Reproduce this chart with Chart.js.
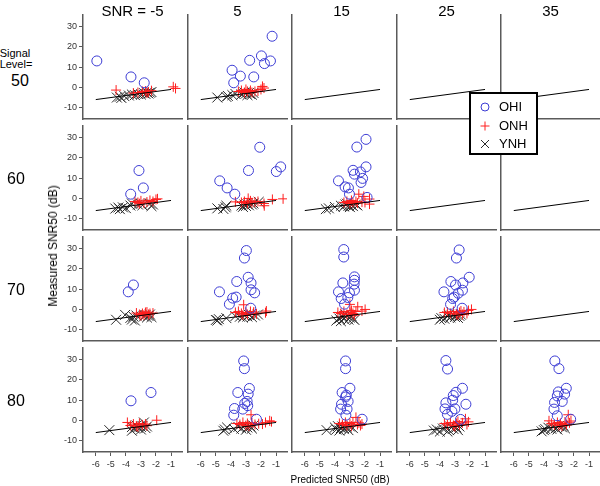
<!DOCTYPE html>
<html>
<head>
<meta charset="utf-8">
<script src="https://cdn.jsdelivr.net/npm/chart.js@4.4.0/dist/chart.umd.min.js"></script>
<style>
    body { margin: 0; background: #fff; }
    #wrap { position: relative; width: 600px; height: 486px; overflow: hidden; font-family: Arial, "Liberation Sans", sans-serif; }
    #wrap canvas { position: absolute; }
    .lbl { position: absolute; color: #000; white-space: nowrap; transform: translate(-50%, -50%); line-height: 1; }
    #legend { position: absolute; left: 469px; top: 92px; width: 69px; height: 63px; box-sizing: border-box; border: 2px solid #000; background: #fff; z-index: 5; }
    #legend .item { position: absolute; left: 0; height: 16px; font-size: 13px; line-height: 16px; }
    #legend svg { position: absolute; left: 7px; top: 3px; }
    #legend span { position: absolute; left: 28px; top: 0; }
</style>
</head>
<body>
<div id="wrap"></div>
<script>
// Panel grid: columns are SNR, rows are signal level
const snrLevels = [-5, 5, 15, 25, 35];
const signalLevels = [50, 60, 70, 80];
const xTicks = [-6, -5, -4, -3, -2, -1];
const yTicks = [-10, 0, 10, 20, 30];
const refLine = [[-6, -6], [-1, -1]];

// Signal level 50, one list per SNR column
const ohi50 = [
    [[-5.93, 13.1], [-3.66, 5.2], [-2.78, 2.3]],
    [[-1.26, 25.3], [-1.97, 15.6], [-1.37, 13.1], [-1.77, 11.8], [-2.75, 13.4], [-3.92, 8.5], [-3.37, 5.6], [-2.48, 5.2], [-3.81, 2.3]],
    [], [], []
];
const onh50 = [
    [[-4.65, -1.3], [-0.85, 0.3], [-0.7, -0.5], [-3.5, -2.8], [-3.2, -2.5], [-2.9, -2], [-2.7, -1.8], [-2.6, -2.8], [-2.5, -2.2], [-2.3, -1.6]],
    [[-3.5, -2], [-3.3, -1.5], [-3.1, -2.5], [-3.0, -1], [-2.9, -2], [-2.7, -1.5], [-2.6, -2.5], [-2.4, -2], [-2.2, -1.8], [-2.0, -1], [-1.9, 0.5], [-1.8, -0.3]],
    [], [], []
];
const ynh50 = [
    [[-4.6, -5], [-4.4, -4.6], [-4.3, -5.2], [-4.1, -4.3], [-3.8, -4], [-3.6, -3.5], [-3.4, -3.8], [-3.2, -3.2], [-3.0, -3.5], [-2.8, -2.8], [-2.7, -3.2], [-2.6, -2.5], [-2.5, -3], [-2.4, -2.6], [-2.3, -2.3]],
    [[-4.9, -5], [-4.3, -4.7], [-4.2, -4.2], [-3.9, -3.8], [-3.7, -3.2], [-3.3, -3.5], [-3.1, -2.5], [-3.0, -3], [-2.9, -3.8], [-2.8, -2.8], [-2.7, -3.3], [-2.6, -3.6], [-2.5, -2.7]],
    [], [], []
];

// Signal level 60
const ohi60 = [
    [[-3.13, 13.8], [-2.84, 5.2], [-3.68, 2.1]],
    [[-2.08, 25.3], [-0.69, 15.6], [-0.98, 13.3], [-2.83, 13.8], [-4.74, 8.7], [-4.25, 5.2], [-3.74, 2.1]],
    [[-1.93, 29.2], [-2.54, 25.4], [-1.93, 15.6], [-2.79, 13.9], [-2.3, 13.1], [-2.7, 12], [-2.16, 9.9], [-2.26, 7.9], [-3.76, 8.7], [-3.32, 5.7], [-3.1, 5.2], [-3.03, 2.1], [-1.86, 0.5]],
    [], []
];
const onh60 = [
    [[-3.4, -1.5], [-3.2, -2], [-3.0, -1.2], [-2.8, -2.3], [-2.6, -1.8], [-2.4, -1], [-2.2, -1.5], [-2.0, -0.5], [-1.9, -0.2], [-3.1, -2.6]],
    [[-3.7, -1.7], [-3.3, -2], [-3.1, -1.5], [-2.9, -2.5], [-2.85, 0], [-2.7, -1.2], [-2.6, -2.2], [-2.4, -1.8], [-2.2, -1.5], [-1.8, -2.5], [-1.78, -3.6], [-1.24, -0.5], [-0.53, -0.2]],
    [[-3.4, -2], [-3.2, -1.5], [-3.0, -2.5], [-2.9, -1], [-2.8, -2], [-2.6, -1.5], [-2.5, -2.3], [-2.41, 2.1], [-2.08, 1], [-2.2, -1.8], [-1.7, -0.3], [-1.7, -2.8], [-2.0, -2]],
    [], []
];
const ynh60 = [
    [[-4.7, -5], [-4.5, -4.5], [-4.4, -5.3], [-4.2, -4.4], [-4.0, -4.8], [-3.7, -3.5], [-3.6, -2.5], [-3.2, -3], [-3.0, -2.6], [-2.9, -3.4], [-2.4, -2.5], [-2.3, -3.8], [-2.2, -3]],
    [[-4.9, -4.9], [-4.5, -5.2], [-4.35, -4.4], [-4.3, -3.6], [-3.3, -3.5], [-3.2, -4.2], [-3.1, -3], [-3.0, -3.7], [-2.9, -2.8], [-2.8, -3.4], [-2.6, -3], [-2.15, -1.7], [-2.5, -2.5]],
    [[-4.6, -5.3], [-4.4, -4.9], [-4.0, -4.2], [-3.6, -3.6], [-3.4, -4], [-3.3, -3], [-3.1, -3.7], [-3.0, -4.3], [-2.9, -3.2], [-2.8, -3.8], [-2.6, -3], [-2.5, -3.5], [-3.2, -2.6]],
    [], []
];

// Signal level 70
const ohi70 = [
    [[-3.5, 12.1], [-3.84, 8.7]],
    [[-2.97, 29.1], [-3.1, 25.4], [-2.85, 15.9], [-2.66, 13.1], [-3.61, 13.8], [-2.66, 9.7], [-2.42, 8.2], [-4.76, 8.7], [-3.65, 6.1], [-3.88, 5.6], [-4.1, 2.6], [-2.68, 0.6]],
    [[-3.41, 29.6], [-3.41, 25.9], [-2.7, 16.1], [-2.7, 14.4], [-2.72, 12.5], [-3.47, 13.1], [-2.7, 9.5], [-3.76, 8.7], [-3.03, 8.2], [-3.14, 5.9], [-3.58, 5.4], [-3.36, 2.6]],
    [[-2.72, 29.4], [-2.9, 25.4], [-2.05, 15.9], [-2.47, 13.1], [-3.27, 13.8], [-2.96, 12.1], [-2.5, 9.5], [-3.73, 8.7], [-2.78, 8], [-3.05, 6.1], [-3.15, 5.4], [-3.29, 2.5], [-2.52, 0.6]],
    []
];
const onh70 = [
    [[-3.3, -1.8], [-3.1, -2.5], [-2.9, -2], [-2.7, -1.5], [-2.6, -1.3], [-2.5, -2.5], [-2.4, -2], [-2.2, -1.8], [-3.0, -3], [-2.8, -2.8]],
    [[-3.7, -1.5], [-3.5, -1], [-3.3, -2], [-3.15, 2.3], [-3.0, -1.5], [-2.9, -2.5], [-2.7, -1], [-2.5, -2], [-2.48, -1.3], [-2.3, -2.2], [-1.64, -0.8], [-1.7, -1.6], [-3.2, -2.8]],
    [[-3.8, -1.5], [-3.6, -2], [-3.4, -1], [-3.2, -2.5], [-3.0, -1.5], [-2.9, -0.5], [-2.8, -2], [-2.6, -1], [-2.48, 1.3], [-2.2, -0.8], [-1.99, 0], [-3.0, 2.5], [-2.7, -2.8]],
    [[-3.7, -1.5], [-3.5, -1.3], [-3.3, -2], [-3.1, -1], [-2.9, -2.3], [-2.7, -1.5], [-2.6, -0.8], [-2.5, -2.5], [-2.4, -1.2], [-2.2, -2], [-2.1, -0.5], [-1.9, 0], [-2.8, -2.8]],
    []
];
const ynh70 = [
    [[-4.65, -5.1], [-4.05, -2.7], [-3.7, -4.2], [-3.6, -5], [-3.5, -3.5], [-3.3, -3], [-3.4, -5.5], [-2.8, -3.5], [-2.7, -2.8], [-2.6, -4], [-2.5, -3.2], [-2.4, -2.5], [-2.3, -3.8]],
    [[-5.0, -5.2], [-4.9, -5.5], [-4.8, -4.8], [-4.3, -4.3], [-3.7, -3.3], [-3.4, -3.6], [-3.2, -4], [-3.1, -3], [-2.9, -3.5], [-2.8, -2.7], [-2.6, -3.8], [-2.4, -3], [-2.2, -2.5]],
    [[-3.9, -5.5], [-3.7, -4.5], [-3.6, -5.8], [-3.5, -3.5], [-3.4, -4.8], [-3.2, -3], [-3.1, -5], [-3.0, -4], [-2.9, -3.2], [-2.8, -4.5], [-2.7, -5.2], [-3.3, -2.5]],
    [[-4.0, -5.1], [-3.9, -4.3], [-3.7, -4.6], [-3.5, -3.5], [-3.3, -4], [-3.2, -3], [-3.0, -3.7], [-2.9, -2.7], [-2.8, -4.2], [-2.7, -3.2], [-2.6, -2.6], [-3.4, -2.6]],
    []
];

// Signal level 80
const ohi80 = [
    [[-3.66, 9.7], [-2.33, 13.8]],
    [[-3.15, 29.4], [-3.1, 25.6], [-2.77, 15.8], [-3.54, 13.8], [-2.85, 13], [-2.92, 9.4], [-3.08, 8.4], [-2.88, 7.3], [-3.21, 5.6], [-3.76, 5.9], [-3.81, 2.6], [-2.3, 0.6]],
    [[-3.29, 29.4], [-3.29, 25.6], [-3.0, 15.9], [-3.52, 13.8], [-3.24, 12.5], [-3.29, 11.6], [-3.12, 9.4], [-3.56, 8], [-3.62, 5.6], [-3.19, 5.6], [-3.27, 2.6], [-2.19, 0.6]],
    [[-3.6, 29.6], [-3.49, 25.4], [-2.5, 15.9], [-2.93, 13.9], [-3.11, 12.3], [-3.15, 10], [-2.27, 8], [-3.6, 8.7], [-3.0, 5.7], [-3.66, 5.7], [-3.5, 3], [-2.63, 0.5], [-3.2, 4.5]],
    [[-3.27, 29.4], [-3.0, 25.6], [-2.51, 15.9], [-3.04, 14.1], [-2.62, 13], [-3.11, 12.1], [-2.78, 9.4], [-3.29, 8.9], [-3.33, 5.6], [-3.11, 2.3], [-2.22, 0.6]]
];
const onh80 = [
    [[-3.9, -1], [-3.7, -2.5], [-3.5, -1.8], [-3.3, -2.8], [-3.1, -1.5], [-2.9, -2.2], [-2.7, -1.8], [-2.6, -2.6], [-1.95, 0.1], [-3.2, -3.2]],
    [[-3.6, -1.5], [-3.4, -2], [-3.2, -1], [-3.0, -2.5], [-2.9, -1.5], [-2.8, -2.8], [-2.66, 2.8], [-2.6, -1.2], [-2.4, -2], [-2.15, -1.6], [-1.9, -1.8], [-1.7, -1], [-1.42, -0.2], [-1.3, -0.6]],
    [[-3.7, -1.5], [-3.5, -2], [-3.3, -1], [-3.2, -2.5], [-3.0, -1.5], [-2.9, -2.8], [-2.8, -1], [-2.6, 1.5], [-2.5, -2], [-2.4, -1.2], [-2.3, -2.5], [-2.2, -1.8]],
    [[-3.7, -1.5], [-3.5, -2.2], [-3.3, -1], [-3.1, -2.5], [-2.9, -1.5], [-2.8, -0.5], [-2.7, -2.3], [-2.5, -1.2], [-2.3, 0.8], [-2.2, -2], [-2.1, -0.7], [-3.0, -3]],
    [[-3.66, -0.2], [-3.5, -1.5], [-3.3, -2.2], [-3.1, -1], [-3.0, -2.5], [-2.9, -1.5], [-2.8, -2.8], [-2.6, -0.8], [-2.5, -2], [-2.38, 2.8], [-2.3, -1.2], [-2.2, -0.3]]
];
const ynh80 = [
    [[-5.1, -4.8], [-3.6, -5.1], [-3.6, -3.3], [-3.4, -4], [-3.2, -3.5], [-3.0, -4.5], [-2.9, -2.7], [-2.8, -1], [-2.7, -3.8], [-2.6, -3], [-3.3, -2.5], [-3.0, -3.2]],
    [[-4.5, -5.1], [-4.4, -4.5], [-4.25, -3.5], [-3.8, -4.2], [-3.5, -3.2], [-3.3, -4], [-3.1, -2.8], [-3.0, -4.6], [-2.9, -3.5], [-2.7, -3], [-2.6, -4], [-2.5, -2.5]],
    [[-4.55, -4.8], [-4.0, -3.5], [-3.9, -4.5], [-3.8, -2.8], [-3.7, -5], [-3.6, -3.8], [-3.5, -3], [-3.4, -4.3], [-3.2, -3.5], [-3.1, -4.8], [-3.0, -3], [-2.8, -3.8]],
    [[-4.4, -5], [-4.2, -4.5], [-4.0, -5.5], [-3.8, -4], [-3.6, -3.5], [-3.4, -4.8], [-3.3, -3], [-3.1, -4.2], [-2.9, -3.5], [-2.8, -4.8], [-2.7, -3], [-3.5, -5.5]],
    [[-4.15, -5.4], [-4.0, -4.8], [-3.9, -4.3], [-3.7, -3.6], [-3.5, -4.2], [-3.4, -3], [-3.2, -3.8], [-3.1, -4.5], [-3.0, -2.8], [-2.8, -3.4], [-2.7, -2.6], [-2.6, -3.9]]
];

const ohiRows = [ohi50, ohi60, ohi70, ohi80];
const onhRows = [onh50, onh60, onh70, onh80];
const ynhRows = [ynh50, ynh60, ynh70, ynh80];

// Layout of the grid (pixels)
const panelLeft = [83, 188, 292, 397, 501];
const panelTop = [15, 126, 237, 348];
const panelW = 99;
const panelH = 104;
const FONT = 'Arial, "Liberation Sans", sans-serif';
const AXIS = '#5a5a5a';

const wrap = document.getElementById('wrap');
const toXY = pts => pts.map(p => ({ x: p[0], y: p[1] }));

function addLabel(text, x, y, size, extra) {
    const d = document.createElement('div');
    d.className = 'lbl';
    d.textContent = text;
    d.style.left = x + 'px';
    d.style.top = y + 'px';
    d.style.fontSize = size + 'px';
    if (extra) d.style.transform = extra;
    wrap.appendChild(d);
}

function makePanel(r, c) {
    const showY = c === 0;
    const showX = r === 3;
    const padL = showY ? 40 : 8, padR = 8, padT = 8, padB = showX ? 30 : 8;
    const yW = showY ? 32 : 0;
    const xH = showX ? 24 : 0;

    const cv = document.createElement('canvas');
    cv.width = panelW + padL + padR;
    cv.height = panelH + padT + padB;
    cv.style.left = (panelLeft[c] - padL) + 'px';
    cv.style.top = (panelTop[r] - padT) + 'px';
    wrap.appendChild(cv);

    new Chart(cv, {
        type: 'scatter',
        data: {
            datasets: [
                {
                    label: 'ref',
                    data: toXY(refLine),
                    showLine: true,
                    borderColor: '#000',
                    borderWidth: 1,
                    pointRadius: 0
                },
                {
                    label: 'OHI',
                    data: toXY(ohiRows[r][c]),
                    pointStyle: 'circle',
                    pointRadius: 5,
                    borderColor: '#3c3cd4',
                    backgroundColor: 'rgba(0,0,0,0)',
                    borderWidth: 1
                },
                {
                    label: 'ONH',
                    data: toXY(onhRows[r][c]),
                    pointStyle: 'cross',
                    pointRadius: 5,
                    borderColor: '#ff1e1e',
                    borderWidth: 1
                },
                {
                    label: 'YNH',
                    data: toXY(ynhRows[r][c]),
                    pointStyle: 'crossRot',
                    pointRadius: 7,
                    borderColor: '#2a2a2a',
                    borderWidth: 1
                }
            ]
        },
        options: {
            responsive: false,
            animation: false,
            events: [],
            layout: {
                autoPadding: false,
                padding: { left: padL - yW, right: padR, top: padT, bottom: padB - xH }
            },
            plugins: {
                legend: { display: false },
                tooltip: { enabled: false }
            },
            scales: {
                x: {
                    type: 'linear',
                    min: -6.85,
                    max: -0.27,
                    afterFit: s => { s.height = xH; },
                    afterBuildTicks: s => { s.ticks = xTicks.map(v => ({ value: v })); },
                    grid: { drawOnChartArea: false, drawTicks: showX, tickLength: 4, color: AXIS, lineWidth: 1 },
                    border: { display: true, color: AXIS, width: 1.5 },
                    ticks: { display: showX, autoSkip: false, maxRotation: 0, padding: 3, color: '#333', font: { size: 9, family: FONT } }
                },
                y: {
                    type: 'linear',
                    min: -15.6,
                    max: 35.8,
                    afterFit: s => { s.width = yW; },
                    afterBuildTicks: s => { s.ticks = yTicks.map(v => ({ value: v })); },
                    grid: { drawOnChartArea: false, drawTicks: showY, tickLength: 4, color: AXIS, lineWidth: 1 },
                    border: { display: true, color: AXIS, width: 1.5 },
                    ticks: { display: showY, autoSkip: false, padding: 2, color: '#333', font: { size: 9, family: FONT } }
                }
            }
        }
    });
}

signalLevels.forEach((lvl, r) => {
    snrLevels.forEach((snr, c) => makePanel(r, c));
});

// Column headers and row labels
snrLevels.forEach((snr, c) => {
    addLabel(c === 0 ? 'SNR = ' + snr : String(snr), panelLeft[c] + panelW / 2, 10, 15);
});
addLabel('Signal', 15, 53, 11);
addLabel('Level=', 16, 64, 11);
const rowLabelY = [81, 179, 290, 401];
signalLevels.forEach((lvl, r) => {
    addLabel(String(lvl), r === 0 ? 20 : 16, rowLabelY[r], 16);
});
addLabel('Measured SNR50 (dB)', 53, 246, 12, 'translate(-50%, -50%) rotate(-90deg)');
addLabel('Predicted SNR50 (dB)', 340, 480, 10);

// Legend box
const legend = document.createElement('div');
legend.id = 'legend';
legend.innerHTML = `
    <div class="item" style="top:5px"><svg width="14" height="10"><circle cx="7" cy="5" r="4" fill="none" stroke="#3c3cd4" stroke-width="1"/></svg><span>OHI</span></div>
    <div class="item" style="top:24px"><svg width="14" height="10"><path d="M7 0.5V9.5M2.5 5H11.5" stroke="#ff1e1e" stroke-width="1"/></svg><span>ONH</span></div>
    <div class="item" style="top:42px"><svg width="14" height="10"><path d="M3 1L11 9M11 1L3 9" stroke="#2a2a2a" stroke-width="1"/></svg><span>YNH</span></div>
`;
wrap.appendChild(legend);
</script>
</body>
</html>
